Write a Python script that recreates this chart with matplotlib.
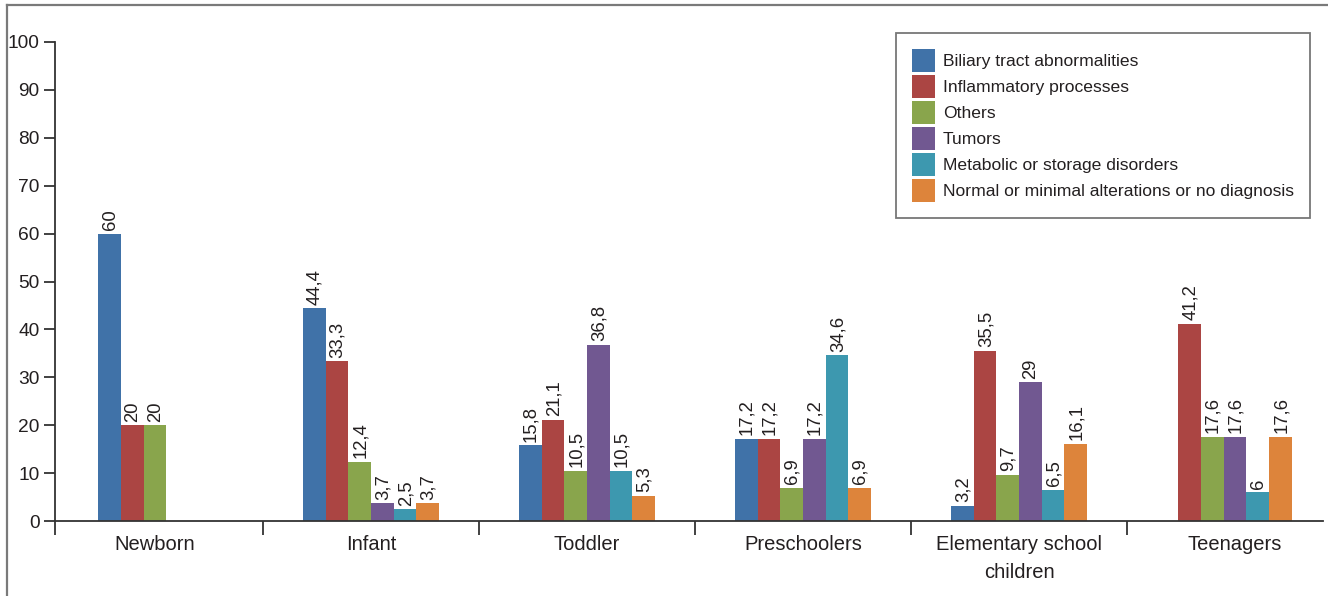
import matplotlib
matplotlib.use("Agg")
import matplotlib.pyplot as plt
from matplotlib.lines import Line2D
from matplotlib.patches import Patch

plt.rcParams['font.family'] = ["Liberation Sans", "DejaVu Sans"]

# Age groups (x categories)
categories = ["Newborn", "Infant", "Toddler", "Preschoolers",
              "Elementary school\nchildren", "Teenagers"]

series_names = [
    "Biliary tract abnormalities",
    "Inflammatory processes",
    "Others",
    "Tumors",
    "Metabolic or storage disorders",
    "Normal or minimal alterations or no diagnosis",
]

# Percentages per diagnosis group; None = group not shown for that age
biliary      = [60,   44.4, 15.8, 17.2, 3.2,  None]
inflammatory = [20,   33.3, 21.1, 17.2, 35.5, 41.2]
others       = [20,   12.4, 10.5, 6.9,  9.7,  17.6]
tumors       = [0,    3.7,  36.8, 17.2, 29,   17.6]
metabolic    = [0,    2.5,  10.5, 34.6, 6.5,  6]
normal       = [None, 3.7,  5.3,  6.9,  16.1, 17.6]

series = [biliary, inflammatory, others, tumors, metabolic, normal]
colors = ["#4072A8", "#AB4543", "#89A54C", "#715891", "#3D98AF", "#DD843B"]

fs_tick, fs_cat, fs_val, fs_leg = 13.8, 14.5, 13.3, 12.6

W, H = 1328, 596
fig = plt.figure(figsize=(W / 100, H / 100), dpi=100)
ax = fig.add_axes([55 / W, 1 - 521 / H, (1323 - 55) / W, (521 - 42) / H])

bar_w = 0.105
text_color = "#231f20"

for ci, cat in enumerate(categories):
    present = [si for si, s in enumerate(series) if s[ci] is not None]
    n = len(present)
    for j, si in enumerate(present):
        v = series[si][ci]
        x = ci + (j - (n - 1) / 2) * bar_w
        ax.bar(x, v, width=bar_w, color=colors[si], linewidth=0)
        if v > 0:
            lbl = f"{v:g}".replace(".", ",")
            ax.annotate(lbl, (x, v), xytext=(0.5, 2.5), textcoords="offset points",
                        rotation=90, ha="center", va="bottom",
                        fontsize=fs_val, color=text_color)

left_lim = -0.463
ax.set_xlim(left_lim, 5.407)
ax.set_ylim(0, 100)
ax.set_yticks(range(0, 101, 10))

# category labels centred, tick marks at group boundaries
ax.set_xticks(range(len(categories)))
ax.set_xticklabels(categories, fontsize=fs_cat, color=text_color, linespacing=1.58)
ax.tick_params(axis="x", which="major", length=0, pad=10)
ax.set_xticks([left_lim] + [k + 0.5 for k in range(len(categories) - 1)], minor=True)
ax.tick_params(axis="x", which="minor", length=10, width=1.3, color="#333333", direction="out")
ax.tick_params(axis="y", length=8, width=1.3, color="#333333", direction="out",
               labelsize=fs_tick, labelcolor=text_color, pad=3)

for side in ("top", "right"):
    ax.spines[side].set_visible(False)
for side in ("left", "bottom"):
    ax.spines[side].set_color("#333333")
    ax.spines[side].set_linewidth(1.3)

# legend with square 23 px swatches on a 26 px row pitch
fs_px = fs_leg * 100 / 72
hl = 23 / fs_px
hh = (23 / fs_px - 0.245) / 0.65
handles = [Patch(facecolor=c, edgecolor="none") for c in colors]
leg = ax.legend(handles, series_names, loc="upper right",
                bbox_to_anchor=((1310 - 55) / (1323 - 55), (521 - 33) / 479),
                borderaxespad=0, fontsize=fs_leg, frameon=True, fancybox=False,
                handlelength=hl, handleheight=hh, handletextpad=8 / fs_px,
                labelspacing=3 / fs_px, borderpad=16 / fs_px)
leg.get_frame().set_edgecolor("#555555")
leg.get_frame().set_linewidth(1.3)
for t in leg.get_texts():
    t.set_color(text_color)

# outer frame lines (left and top)
fig.add_artist(Line2D([7 / W, 7 / W], [0, 1 - 5 / H], transform=fig.transFigure,
                      color="#7a7a7a", linewidth=1.6))
fig.add_artist(Line2D([7 / W, 1], [1 - 5 / H, 1 - 5 / H], transform=fig.transFigure,
                      color="#7a7a7a", linewidth=1.6))

fig.savefig("out.png", dpi=100)
